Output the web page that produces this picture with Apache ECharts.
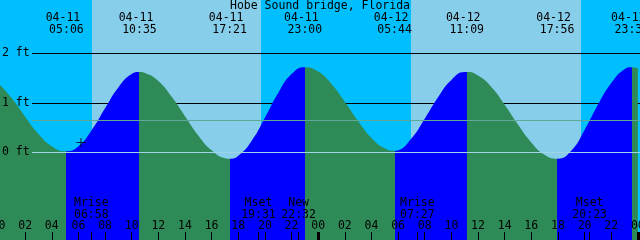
<!DOCTYPE html>
<html><head><meta charset="utf-8">
<script src="https://cdn.jsdelivr.net/npm/echarts@6/dist/echarts.min.js"></script>
<style>html,body{margin:0;padding:0;background:#00BFFF}#c{width:640px;height:240px}</style>
</head><body><div id="c"></div>
<script>
// ---------------- data ----------------
const chartTitle = 'Hobe Sound bridge, Florida';
// tide height (ft) read hourly, from 04-11 00:00 to 04-13 00:00
const hourlyHeights = [
  1.39, 1.09, 0.72, 0.37, 0.12, 0.02, 0.12, 0.45, 0.89, 1.31, 1.58, 1.60,
  1.44, 1.12, 0.73, 0.34, 0.04, -0.12, -0.07, 0.23, 0.70, 1.20, 1.58, 1.72,
  1.63, 1.38, 1.02, 0.63, 0.29, 0.08, 0.04, 0.28, 0.68, 1.11, 1.46, 1.62,
  1.55, 1.32, 0.96, 0.56, 0.20, -0.05, -0.13, 0.03, 0.45, 0.96, 1.40, 1.68,
  1.70
];
// high / low tides
const extremaDates   = ['04-11', '04-11', '04-11', '04-11', '04-12', '04-12', '04-12', '04-12'];
const extremaClock   = ['05:06', '10:35', '17:21', '23:00', '05:44', '11:09', '17:56', '23:33'];
const extremaDay     = [0, 0, 0, 0, 1, 1, 1, 1];
const extremaHeights = [0.02, 1.62, -0.13, 1.72, 0.03, 1.62, -0.13, 1.72];
// moon events
const moonNames = ['Mrise', 'Mset', 'New', 'Mrise', 'Mset'];
const moonClock = ['06:58', '19:31', '22:32', '07:27', '20:23'];
const moonDay   = [0, 0, 0, 1, 1];
// daylight
const sunriseClock = ['07:01', '06:58'];
const sunsetClock  = ['19:42', '19:44'];
const sunDay       = [0, 1];
// axis ticks
const hourTickValues = [0,2,4,6,8,10,12,14,16,18,20,22,24,26,28,30,32,34,36,38,40,42,44,46,48];
const hourTickLabels = ['00','02','04','06','08','10','12','14','16','18','20','22',
                        '00','02','04','06','08','10','12','14','16','18','20','22','00'];
const midnightValues = [24, 48];
const depthValues = [0, 1, 2];
const depthLabels = ['0 ft', '1 ft', '2 ft'];
const gridLevels = [1, 2];
const datumLevel = 0;
const meanLevel = 0.645;
const nowMark = [6.19, 0.2];

// ---------------- helpers ----------------
function hours(day, clock) { const p = clock.split(':'); return day * 24 + (+p[0]) + (+p[1]) / 60; }
const extremaTimes = extremaClock.map((c, i) => hours(extremaDay[i], c));
const moonTimes = moonClock.map((c, i) => hours(moonDay[i], c));
const dayBands = sunDay.map((d, i) => [hours(d, sunriseClock[i]), hours(d, sunsetClock[i])]);
function nearest(arr, v) { let b = 0; arr.forEach((a, i) => { if (Math.abs(a - v) < Math.abs(arr[b] - v)) b = i; }); return b; }

const tideData = [];
hourlyHeights.forEach((h, i) => {
  if (extremaTimes.every(t => Math.abs(t - i) > 0.05)) tideData.push([i, h]);
});
extremaTimes.forEach((t, i) => tideData.push([t, extremaHeights[i]]));
tideData.sort((a, b) => a[0] - b[0]);

const FLOOD = '#0000FF', EBB = '#2E8B57';
const pieces = [];
pieces.push({ lt: extremaTimes[0], color: extremaHeights[0] < extremaHeights[1] ? EBB : FLOOD });
for (let i = 0; i < extremaTimes.length; i++) {
  const rising = i + 1 < extremaTimes.length ? extremaHeights[i] < extremaHeights[i + 1]
                                              : extremaHeights[i] < extremaHeights[i - 1];
  const p = { gte: extremaTimes[i], color: rising ? FLOOD : EBB };
  if (i + 1 < extremaTimes.length) p.lt = extremaTimes[i + 1];
  pieces.push(p);
}

// ---------------- chart ----------------
const FONT = 'DejaVu Sans Mono';
const FS = 11.5;
const XMAX = 48.161;
const LEFT = -1.5;
const chart = echarts.init(document.getElementById('c'), null, { renderer: 'canvas' });
const baseX = { type: 'value', min: 0, max: XMAX, z: 10, axisLine: { show: false, onZero: false }, splitLine: { show: false } };
const txt = { color: '#000', fontFamily: FONT, fontSize: FS };

chart.setOption({
  animation: false,
  backgroundColor: '#00BFFF',
  title: { text: chartTitle, left: 'center', top: 0, padding: 0,
           textStyle: { color: '#000', fontFamily: FONT, fontSize: FS, fontWeight: 'normal' } },
  grid: { left: LEFT, right: 0, top: 0, bottom: 0, containLabel: false, outerBoundsMode: 'none' },
  xAxis: [
    Object.assign({}, baseX, { position: 'bottom',
      axisTick: { show: true, inside: true, length: 8, customValues: hourTickValues, lineStyle: { color: '#000', width: 1 } },
      axisLabel: Object.assign({ inside: true, margin: 8, lineHeight: 12, customValues: hourTickValues,
        formatter: v => hourTickLabels[nearest(hourTickValues, v)] }, txt) }),
    Object.assign({}, baseX, { position: 'top',
      axisTick: { show: false },
      axisLabel: Object.assign({ inside: true, margin: 12.5, lineHeight: 12, customValues: extremaTimes,
        formatter: v => { const i = nearest(extremaTimes, v); return extremaDates[i] + ' \n' + extremaClock[i]; } }, txt) }),
    Object.assign({}, baseX, { position: 'bottom',
      axisTick: { show: true, inside: true, length: 8, customValues: moonTimes, lineStyle: { color: '#000', width: 1 } },
      axisLabel: Object.assign({ inside: true, margin: 19.5, lineHeight: 11.5, customValues: moonTimes,
        formatter: v => { const i = nearest(moonTimes, v); return moonNames[i] + '\n' + moonClock[i]; } }, txt) }),
    Object.assign({}, baseX, { position: 'bottom',
      axisTick: { show: true, inside: true, length: 8, customValues: midnightValues, lineStyle: { color: '#000', width: 3 } },
      axisLabel: { show: false } })
  ],
  yAxis: { type: 'value', min: -1.772, max: 3.077, position: 'left', z: 10,
    axisLine: { show: false, onZero: false }, axisTick: { show: false }, splitLine: { show: false },
    axisLabel: Object.assign({ inside: true, margin: 3.5, customValues: depthValues,
      formatter: v => depthLabels[nearest(depthValues, v)] }, txt) },
  visualMap: { type: 'piecewise', show: false, dimension: 0, seriesIndex: 2, pieces: pieces },
  series: [
    { type: 'custom', z: 1, silent: true, data: dayBands,
      renderItem: (params, api) => {
        const cs = params.coordSys;
        const x1 = api.coord([api.value(0), 0])[0], x2 = api.coord([api.value(1), 0])[0];
        return { type: 'rect', shape: { x: Math.round(x1), y: cs.y, width: Math.round(x2) - Math.round(x1), height: cs.height },
                 style: { fill: '#87CEEB' } };
      } },
    { type: 'custom', z: 2, silent: true, data: gridLevels.map(v => [0, v]),
      renderItem: (params, api) => {
        const cs = params.coordSys;
        const y = Math.round(api.coord([0, api.value(1)])[1]) + 0.5;
        return { type: 'line', shape: { x1: 32, y1: y, x2: cs.x + cs.width, y2: y },
                 style: { stroke: '#000', lineWidth: 1 } };
      } },
    { type: 'line', z: 3, silent: true, data: tideData, smooth: 0.5, symbol: 'none',
      lineStyle: { width: 0 }, areaStyle: { opacity: 1, origin: 'start' } },
    { type: 'custom', z: 4, silent: true, data: [[0, meanLevel], [0, datumLevel]],
      renderItem: (params, api) => {
        const cs = params.coordSys;
        const y = Math.round(api.coord([0, api.value(1)])[1]) + 0.5;
        return { type: 'line', shape: { x1: 32, y1: y, x2: cs.x + cs.width, y2: y },
                 style: { stroke: params.dataIndex === 0 ? '#5fa896' : '#a0d4e8', lineWidth: 1 } };
      } },
    { type: 'scatter', z: 5, silent: true, data: [nowMark],
      symbol: 'path://M0,4h9v1h-9z M4,0h1v9h-1z', symbolSize: [9, 9],
      itemStyle: { color: '#000' } }
  ]
});
</script></body></html>
